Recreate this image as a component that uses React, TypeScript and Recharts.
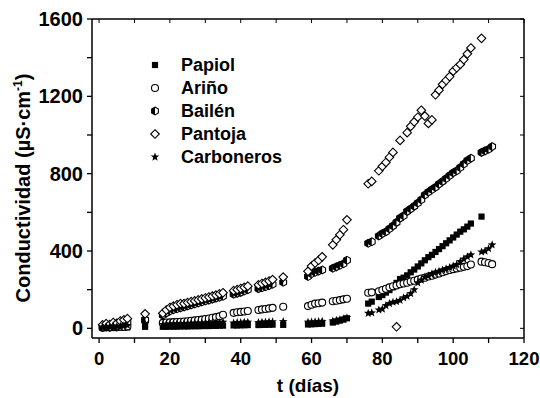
import React from "react";
import { Scatter, ScatterChart, XAxis, YAxis } from "recharts";

// sampling days shared by all five series (null = no reading that day)
const days = [
  1, 2, 3, 4, 5, 6, 7, 8,
  13,
  18, 19, 20, 21, 22, 23, 24, 25, 26, 27, 28, 29, 30, 31, 32, 33, 34, 35,
  38, 39, 40, 41, 42,
  45, 46, 47, 48, 49,
  52,
  59, 60, 61, 62, 63,
  66, 67, 68, 69, 70,
  76, 77, 79, 80, 81, 82, 83, 84, 85, 86, 87, 88, 89, 90, 91, 92, 93, 94, 95, 96, 97, 98, 99, 100, 101, 102, 103, 104, 105,
  108, 109, 110, 111,
];

const papiol = [
  2, 2, 3, 3, 3, 4, 4, 5,
  8,
  8, 8, 9, 9, 9, 10, 10, 10, 11, 11, 11, 12, 12, 12, 13, 13, 14, 14,
  15, 15, 16, 16, 17,
  17, 18, 18, 19, 19,
  18,
  20, 21, 22, 23, 24,
  30, 35, 40, 45, 52,
  128, 138, 162, 172, 185, 198, 212, 235, 255, 262, 274, 290, 304, 320, 336, 352, 368, 380, 395, 410, 425, 440, 455, 470, 485, 500, 512, 526, 542,
  578, null, null, null,
];

const arino = [
  3, 5, 4, 6, 5, 8, 8, 10,
  38,
  28, 30, 31, 32, 33, 34, 35, 37, 39, 41, 43, 45, 48, 51, 55, 58, 62, 70,
  80, 83, 85, 87, 90,
  95, 98, 100, 103, 106,
  112,
  115, 122, 128, 130, 133,
  140, 143, 146, 150, 153,
  184, 186, 192, 198, 205, 212, 218, 222, 228, 232, 236, 242, 246, 252, 258, 262, 268, 272, 278, 284, 290, 296, 302, 306, 310, 314, 318, 322, 330,
  345, 342, 338, 332,
];

const bailen = [
  5, 8, 6, 12, 10, 20, 25, 30,
  45,
  68, 80, 90, 96, 101, 106, 111, 116, 121, 126, 131, 136, 141, 146, 151, 156, 161, 166,
  176, 181, 186, 193, 200,
  205, 210, 215, 221, 228,
  238,
  268, 282, 290, 296, 302,
  311, 318, 326, 334, 352,
  440, 448, 478, 490, 500, 515, 530, 548, 570, 582, 605, 618, 632, 648, 665, 690, 705, 718, 730, 746, 760, 775, 790, 805, 815, 832, 850, 868, 880,
  910, 918, 926, 940,
];

const pantoja = [
  18, 24, 20, 30, 26, 38, 44, 50,
  75,
  78, 95, 108, 115, 122, 128, 128, 133, 138, 142, 147, 152, 157, 162, 167, 172, 178, 184,
  195, 200, 206, 212, 218,
  225, 232, 238, 245, 252,
  265,
  295, 322, 338, 352, 370,
  432, 458, 484, 510, 561,
  748, 760, 815, 838, 858, 885, 910, 8, 972, null, 1012, 1045, 1068, 1092, 1128, 1098, 1060, 1078, 1208, 1232, 1262, 1282, 1302, 1330, 1348, 1365, 1390, 1420, 1450,
  1500, null, null, null,
];

const carboneros = [
  8, 10, 8, 12, 10, 12, 14, 15,
  25,
  20, 22, 22, 24, 24, 25, 25, 26, 26, 27, 27, 28, 28, 29, 29, 30, 30, 32,
  28, 30, 30, 32, 32,
  30, 32, 32, 34, 34,
  35,
  32, 33, 34, 35, 36,
  38, 42, 45, 50, 55,
  78, 80, 95, 100, 118, 128, 135, 138, 145, 158, 165, 180, 200, 235, 250, 265, 272, 282, 290, 295, 302, 308, 315, 322, 330, 345, 358, 370, 380,
  395, 400, 412, 432,
];

const xTicks = [0, 10, 20, 30, 40, 50, 60, 70, 80, 90, 100, 110, 120];
const yTicks = [0, 200, 400, 600, 800, 1000, 1200, 1400, 1600];

const FONT = "'Liberation Sans', Arial, Helvetica, sans-serif";

function toPoints(values: (number | null)[]) {
  return days
    .map((t, i) => ({ t, v: values[i] }))
    .filter((p) => p.v !== null);
}

const Square = (p: any) => <rect x={p.cx - 3.1} y={p.cy - 3.1} width={6.2} height={6.2} fill="#000" />;

const Ring = (p: any) => <circle cx={p.cx} cy={p.cy} r={3.5} fill="#fff" stroke="#000" strokeWidth={1.1} />;

const HalfHex = (p: any) => {
  const r = 3.9;
  const c = r * 0.866;
  const { cx, cy } = p;
  const full = `${cx},${cy - r} ${cx + c},${cy - r / 2} ${cx + c},${cy + r / 2} ${cx},${cy + r} ${cx - c},${cy + r / 2} ${cx - c},${cy - r / 2}`;
  const left = `${cx},${cy - r} ${cx},${cy + r} ${cx - c},${cy + r / 2} ${cx - c},${cy - r / 2}`;
  return (
    <g>
      <polygon points={full} fill="#fff" stroke="#000" strokeWidth={1.1} />
      <polygon points={left} fill="#000" />
    </g>
  );
};

const Diamond = (p: any) => {
  const r = 4.3;
  const { cx, cy } = p;
  return (
    <path
      d={`M${cx},${cy - r}L${cx + r},${cy}L${cx},${cy + r}L${cx - r},${cy}Z`}
      fill="#fff"
      stroke="#000"
      strokeWidth={1.1}
    />
  );
};

const Star = (p: any) => {
  const { cx, cy } = p;
  const pts: string[] = [];
  for (let i = 0; i < 10; i++) {
    const rad = i % 2 === 0 ? 4.5 : 1.9;
    const a = -Math.PI / 2 + (i * Math.PI) / 5;
    pts.push(`${cx + rad * Math.cos(a)},${cy + rad * Math.sin(a)}`);
  }
  return <polygon points={pts.join(" ")} fill="#000" />;
};

const BottomTick = ({ x, y, payload }: any) => (
  <g>
    <line x1={x} y1={y} x2={x} y2={y + 5} stroke="#000" strokeWidth={1.3} />
    {payload.value % 20 === 0 && (
      <text x={x} y={y + 27} textAnchor="middle" fontFamily={FONT} fontWeight="bold" fontSize={18.5} fill="#000">
        {payload.value}
      </text>
    )}
  </g>
);

const LeftTick = ({ x, y, payload }: any) => (
  <g>
    <line x1={x - 5} y1={y} x2={x} y2={y} stroke="#000" strokeWidth={1.3} />
    {payload.value % 400 === 0 && (
      <text x={x - 9} y={y + 7} textAnchor="end" fontFamily={FONT} fontWeight="bold" fontSize={20} fill="#000">
        {payload.value}
      </text>
    )}
  </g>
);

const TopTick = ({ x, y }: any) => <line x1={x} y1={y} x2={x} y2={y + 4} stroke="#000" strokeWidth={1} />;

const RightTick = ({ x, y }: any) => <line x1={x - 4} y1={y} x2={x} y2={y} stroke="#000" strokeWidth={1} />;

const YTitle = () => (
  <text
    transform="translate(30,188) rotate(-90)"
    textAnchor="middle"
    fontFamily={FONT}
    fontWeight="bold"
    fontSize={20}
    fill="#000"
  >
    Conductividad (µS·cm
    <tspan dy={-8} fontSize={12}>
      -1
    </tspan>
    <tspan dy={8}>)</tspan>
  </text>
);

const XTitle = () => (
  <text x={308} y={392} textAnchor="middle" fontFamily={FONT} fontWeight="bold" fontSize={19} fill="#000">
    t (días)
  </text>
);

const series = [
  { name: "Papiol", values: papiol, shape: Square },
  { name: "Ariño", values: arino, shape: Ring },
  { name: "Bailén", values: bailen, shape: HalfHex },
  { name: "Pantoja", values: pantoja, shape: Diamond },
  { name: "Carboneros", values: carboneros, shape: Star },
];

const legendRows = [65, 88, 111, 134, 157];

export default function App() {
  return (
    <div style={{ position: "fixed", left: 0, top: 0, width: 540, height: 398, background: "#fff" }}>
      <ScatterChart width={540} height={398} margin={{ top: 18, right: 15, bottom: 0, left: 0 }}>
        <XAxis
          dataKey="t"
          type="number"
          domain={[-2, 120]}
          ticks={xTicks}
          allowDataOverflow
          height={60}
          tickSize={0}
          tickMargin={0}
          tickLine={false}
          tick={<BottomTick />}
          axisLine={{ stroke: "#000", strokeWidth: 1.5 }}
          label={<XTitle />}
        />
        <XAxis
          xAxisId="top"
          dataKey="t"
          orientation="top"
          type="number"
          domain={[-2, 120]}
          ticks={xTicks}
          allowDataOverflow
          height={1}
          tickSize={0}
          tickMargin={0}
          tickLine={false}
          tick={<TopTick />}
          axisLine={{ stroke: "#000", strokeWidth: 1.5 }}
        />
        <YAxis
          dataKey="v"
          type="number"
          domain={[-50, 1600]}
          ticks={yTicks}
          allowDataOverflow
          width={92}
          tickSize={0}
          tickMargin={0}
          tickLine={false}
          tick={<LeftTick />}
          axisLine={{ stroke: "#000", strokeWidth: 1.5 }}
          label={<YTitle />}
        />
        <YAxis
          yAxisId="right"
          dataKey="v"
          orientation="right"
          type="number"
          domain={[-50, 1600]}
          ticks={yTicks}
          allowDataOverflow
          width={1}
          tickSize={0}
          tickMargin={0}
          tickLine={false}
          tick={<RightTick />}
          axisLine={{ stroke: "#000", strokeWidth: 1.5 }}
        />
        {series.map((s) => (
          <Scatter
            key={s.name}
            name={s.name}
            data={toPoints(s.values)}
            shape={s.shape}
            isAnimationActive={false}
          />
        ))}
        {/* empty series that only keeps the mirrored frame axes alive */}
        <Scatter xAxisId="top" yAxisId="right" data={[]} isAnimationActive={false} />
      </ScatterChart>
      {series.map((s, i) => {
        const Shape = s.shape;
        return (
          <div key={s.name} style={{ position: "absolute", left: 0, top: legendRows[i] - 10, height: 20 }}>
            <svg width={20} height={20} style={{ position: "absolute", left: 145, top: 0 }}>
              <Shape cx={10} cy={10} />
            </svg>
            <span
              style={{
                position: "absolute",
                left: 181,
                top: 0,
                lineHeight: "20px",
                fontFamily: FONT,
                fontWeight: "bold",
                fontSize: 18,
                whiteSpace: "nowrap",
                color: "#000",
              }}
            >
              {s.name}
            </span>
          </div>
        );
      })}
    </div>
  );
}
